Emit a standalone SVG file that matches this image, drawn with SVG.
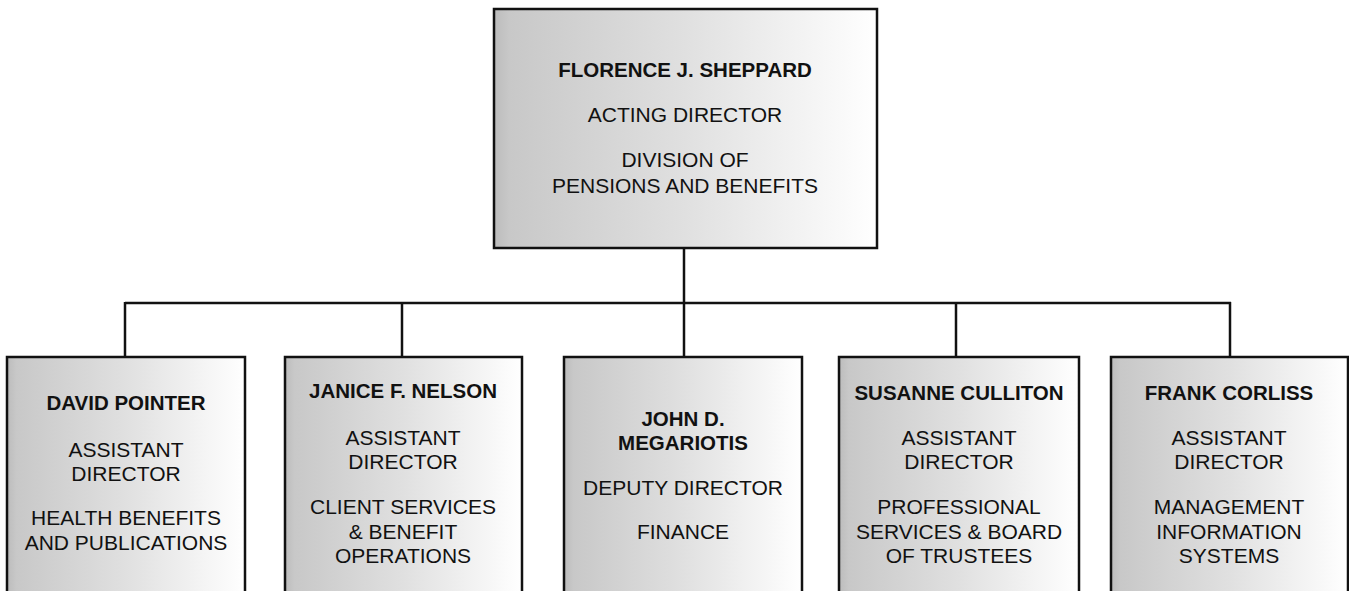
<svg xmlns="http://www.w3.org/2000/svg" width="1349" height="591" viewBox="0 0 1349 591">
<defs>
<linearGradient id="g" x1="0" y1="0" x2="1" y2="0">
<stop offset="0" stop-color="#bcbcbc"/>
<stop offset="0.04" stop-color="#c8c8c8"/>
<stop offset="0.5" stop-color="#e0e0e0"/>
<stop offset="1" stop-color="#ffffff"/>
</linearGradient>
</defs>
<style>
.box{fill:url(#g);stroke:#111;stroke-width:2.5}
.ln{stroke:#111;stroke-width:2.5;fill:none}
text{font-family:"Liberation Sans",Arial,sans-serif;text-anchor:middle;fill:#111}
.b{font-weight:bold;font-size:20.5px}
.r{font-size:21px}
</style>
<g id="connectors">
<line class="ln" x1="684" y1="248" x2="684" y2="303"/>
<line class="ln" x1="125" y1="303" x2="1231" y2="303"/>
<line class="ln" x1="125" y1="302" x2="125" y2="357"/>
<line class="ln" x1="402" y1="302" x2="402" y2="357"/>
<line class="ln" x1="684" y1="302" x2="684" y2="357"/>
<line class="ln" x1="956" y1="302" x2="956" y2="357"/>
<line class="ln" x1="1230" y1="302" x2="1230" y2="357"/>
</g>
<g id="director">
<rect class="box" x="494" y="9" width="383" height="239"/>
<text class="b" x="685" y="77">FLORENCE J. SHEPPARD</text>
<text class="r" x="685" y="122">ACTING DIRECTOR</text>
<text class="r" x="685" y="167">DIVISION OF</text>
<text class="r" x="685" y="193">PENSIONS AND BENEFITS</text>
</g>
<g id="pointer">
<rect class="box" x="7" y="357" width="238" height="260"/>
<text class="b" x="126" y="410">DAVID POINTER</text>
<text class="r" x="126" y="457">ASSISTANT</text>
<text class="r" x="126" y="481">DIRECTOR</text>
<text class="r" x="126" y="525">HEALTH BENEFITS</text>
<text class="r" x="126" y="550">AND PUBLICATIONS</text>
</g>
<g id="nelson">
<rect class="box" x="285" y="357" width="237" height="260"/>
<text class="b" x="403" y="398">JANICE F. NELSON</text>
<text class="r" x="403" y="445">ASSISTANT</text>
<text class="r" x="403" y="469">DIRECTOR</text>
<text class="r" x="403" y="514">CLIENT SERVICES</text>
<text class="r" x="403" y="539">&amp; BENEFIT</text>
<text class="r" x="403" y="563">OPERATIONS</text>
</g>
<g id="megariotis">
<rect class="box" x="564" y="357" width="238" height="260"/>
<text class="b" x="683" y="426">JOHN D.</text>
<text class="b" x="683" y="450">MEGARIOTIS</text>
<text class="r" x="683" y="495">DEPUTY DIRECTOR</text>
<text class="r" x="683" y="539">FINANCE</text>
</g>
<g id="culliton">
<rect class="box" x="839" y="357" width="240" height="260"/>
<text class="b" x="959" y="400">SUSANNE CULLITON</text>
<text class="r" x="959" y="445">ASSISTANT</text>
<text class="r" x="959" y="469">DIRECTOR</text>
<text class="r" x="959" y="514">PROFESSIONAL</text>
<text class="r" x="959" y="539">SERVICES &amp; BOARD</text>
<text class="r" x="959" y="563">OF TRUSTEES</text>
</g>
<g id="corliss">
<rect class="box" x="1111" y="357" width="237" height="260"/>
<text class="b" x="1229" y="400">FRANK CORLISS</text>
<text class="r" x="1229" y="445">ASSISTANT</text>
<text class="r" x="1229" y="469">DIRECTOR</text>
<text class="r" x="1229" y="514">MANAGEMENT</text>
<text class="r" x="1229" y="539">INFORMATION</text>
<text class="r" x="1229" y="563">SYSTEMS</text>
</g>
</svg>
